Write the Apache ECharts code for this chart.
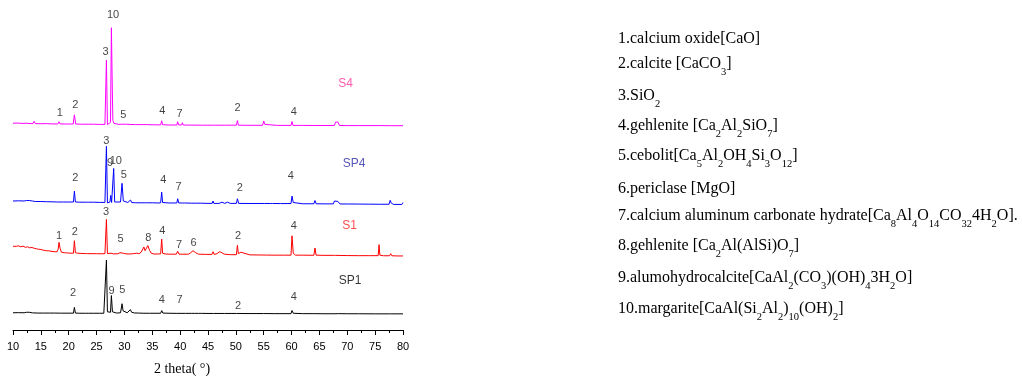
<!DOCTYPE html>
<html>
<head>
<meta charset="utf-8">
<script src="https://cdn.jsdelivr.net/npm/echarts@6/dist/echarts.min.js"></script>
<style>html,body{margin:0;padding:0;background:#fff;}#c{width:1022px;height:381px;}</style>
</head>
<body>
<div id="c"></div>
<script>
// ---- data: 2theta (deg), relative intensity above each pattern's baseline ----
var sampleNames = ['S4', 'SP4', 'S1', 'SP1'];
var offsets = [207, 127, 75, 16];

var S4 = [[10,3],[10.8,3.2],[11.6,2.8],[12.4,3],[13.2,2.6],[13.6,2.7],[13.8,5],[14,2.6],[15,2.5],[16,2.6],[17,2.3],[18.05,2.3],[18.26,4.5],[18.45,2.3],[19.5,2.2],[20.8,2.2],[21.02,11.5],[21.25,2.2],[22.3,2],[23.1,2],[23.3,3.5],[23.5,2],[24.5,2],[25.5,1.8],[26.5,1.8],[26.77,67],[26.95,1.5],[27.1,3],[27.3,1.5],[27.5,4],[27.66,100],[27.78,55],[27.84,53],[27.92,6],[28.1,3],[28.4,2],[29,1.8],[29.45,2],[29.57,4],[29.7,2.5],[30.2,2],[31,1.8],[32,1.6],[33,1.6],[34,1.6],[34.2,3],[34.4,1.5],[35.5,1.4],[36.5,1.3],[36.69,5.5],[36.85,1.5],[38,1.2],[39.4,1.2],[39.56,4.5],[39.72,1.3],[40.25,1.2],[40.41,3.5],[40.55,1.2],[41.2,1.1],[41.5,2],[41.9,1.1],[42.2,2],[42.5,1.1],[44,1],[45.8,1],[46,2.5],[46.2,1],[48,1],[50.1,1],[50.28,5.7],[50.45,1],[52,0.9],[54.8,0.9],[55.0,5.3],[55.2,1.8],[55.5,0.9],[57.5,0.8],[59.9,0.8],[60.08,4.7],[60.25,0.8],[62,0.8],[64,0.7],[66,0.7],[67.7,0.7],[67.9,4.2],[68.1,2.4],[68.3,4.2],[68.6,0.7],[70,0.6],[72,0.6],[75.5,0.6],[75.7,2],[75.9,0.6],[78,0.5],[80,0.5]];

var SP4 = [[10,4],[11,4.2],[12,4],[12.4,4.5],[12.6,5.5],[12.9,4.5],[13.5,4],[14,3.5],[15,3.5],[16,3.3],[17,3.2],[18,3],[19,3],[20,3],[20.85,3],[21.02,14],[21.2,3],[22,2.8],[23.2,2.8],[23.4,4],[23.6,2.8],[24.5,2.8],[25.5,2.6],[26.5,2.6],[26.77,59.5],[26.95,2],[27.2,1.5],[27.4,3],[27.55,9.7],[27.7,2.5],[27.9,3],[28.07,37],[28.25,3],[28.6,2.5],[29.3,3],[29.57,22],[29.8,4],[30.1,3],[30.6,2.5],[30.9,2.5],[31.1,5],[31.3,2.5],[32,2.2],[33,2.2],[33.8,2.2],[34.0,3.5],[34.2,2.2],[35,2.2],[36,2],[36.5,2.2],[36.69,13],[36.85,2.5],[37.2,2.2],[38,2],[39.4,2],[39.56,6.3],[39.75,2],[40.4,2],[40.6,3],[40.8,2],[42,1.8],[43,1.8],[43.3,2.8],[43.6,1.8],[45,1.6],[45.75,1.6],[45.9,4],[46.05,1.6],[47,1.6],[47.5,2.8],[48,1.6],[48.5,2.8],[49,1.6],[50.1,1.6],[50.28,6.3],[50.5,1.6],[52,1.5],[54.7,1.5],[54.9,3.5],[55.1,1.5],[56.2,1.5],[56.4,3],[56.6,1.5],[58,1.4],[59.9,1.4],[60.08,9],[60.3,2.5],[60.6,1.4],[62,1.2],[64,1.2],[64.2,4.5],[64.4,1.2],[66,1.1],[67.5,1.1],[67.7,4],[68,3.5],[68.3,3.6],[68.7,1],[70,1],[72,0.9],[74,0.8],[76,0.7],[77.5,0.7],[77.7,4.7],[77.9,1.8],[78.3,0.6],[79.8,0.5],[80,2.5]];

var S1 = [[10,10],[10.3,11],[10.6,10],[11,10.5],[11.4,9.5],[11.8,10.2],[12.2,9],[12.6,9.5],[13,8.5],[13.4,8.8],[13.8,8],[14.2,7.5],[14.6,7],[15,6.8],[15.5,6],[16,5.5],[16.5,5.4],[17,4.8],[17.5,4.5],[17.9,4.4],[18.1,7],[18.26,14],[18.45,8],[18.7,4],[19.2,3.5],[19.8,3.2],[20.4,3],[20.85,3],[21.02,15.7],[21.2,3.5],[21.6,3],[22.2,2.8],[23,2.6],[23.2,4],[23.4,2.6],[24,2.5],[25,2.5],[25.8,2.4],[26.5,2.5],[26.77,37.3],[26.95,2.6],[27.3,2.4],[27.6,3],[28,2.3],[28.8,2.4],[29.2,3.5],[29.5,5],[29.8,3],[30.3,2.3],[31,2.2],[31.6,2.5],[31.9,4],[32.2,3],[32.6,2.5],[33,4],[33.3,6],[33.5,9.3],[33.7,5.5],[33.9,6],[34.2,10.7],[34.5,6],[34.8,3],[35.3,2.2],[36,2.2],[36.5,2.4],[36.69,17.3],[36.85,3],[37.3,2.2],[38.2,2],[39.3,2],[39.56,5],[39.8,2],[40.5,2],[41.5,2],[41.9,3.5],[42.3,5.5],[42.8,3.5],[43.3,2],[44.5,1.8],[45.7,1.8],[45.9,4.5],[46.1,1.8],[46.6,2.5],[47.1,4.5],[47.5,3.5],[47.9,2],[49,1.5],[50.1,1.5],[50.28,11],[50.45,2.5],[50.9,4],[51.2,2],[52.5,1.3],[54,1.2],[55.5,1.1],[57,1],[58.5,1],[59.9,1],[60.08,20.7],[60.3,3],[60.7,1],[62,1],[64,0.9],[64.2,8.3],[64.4,1],[66,0.8],[67.5,0.8],[67.7,2.8],[67.9,0.8],[70,0.6],[72,0.5],[74,0.5],[75.55,0.5],[75.7,11.7],[75.85,1],[76.5,0.4],[77.6,0.4],[77.8,2.5],[78,0.4],[79,0.2],[80,0.2]];

var SP1 = [[10,1.5],[11,1.6],[12,1.5],[12.4,2],[12.6,3],[12.9,2],[13.5,1.4],[14.5,1.2],[15.5,1.2],[16.5,1.2],[17.5,1.2],[18.5,1.1],[19.5,1.1],[20.85,1.1],[21.02,7],[21.2,1.2],[22,1],[23,1],[23.3,2],[23.6,1],[24.5,1],[25.5,1],[26.3,1],[26.5,2],[26.77,55],[26.95,2.5],[27.2,1.5],[27.5,2],[27.66,19],[27.85,2.5],[28.1,1.5],[28.6,1.2],[29.3,1.5],[29.57,10.7],[29.75,3.5],[30,2],[30.5,1.5],[30.85,1.8],[31.07,4.7],[31.3,2],[31.8,1.3],[32.5,1.2],[33.5,1],[34.5,1],[35.5,1],[36.5,1],[36.69,3.7],[36.9,1.2],[38,1],[39.4,0.9],[39.56,2.2],[39.75,0.9],[41,0.9],[42,0.9],[42.3,1.8],[42.6,0.9],[43.3,0.9],[43.5,1.6],[43.8,0.9],[45,0.8],[46,0.8],[48,0.8],[50.1,0.8],[50.28,2.5],[50.45,0.8],[52,0.7],[55,0.7],[55.2,1.5],[55.4,0.7],[57,0.6],[59.9,0.6],[60.08,3.8],[60.3,1],[60.6,0.6],[62,0.6],[64,0.6],[66,0.5],[67.8,0.5],[68.1,1.6],[68.4,0.6],[70,0.5],[72,0.5],[75,0.4],[77.6,0.4],[77.8,1.6],[78,0.4],[80,0.4]];

// peak annotation numbers: [2theta, height above baseline, text]
var S4_marks = [[18.4,13.7,'1'],[21.2,21.3,'2'],[26.6,75.7,'3'],[27.95,113,'10'],[29.8,11.3,'5'],[36.8,15.7,'4'],[39.9,12.3,'7'],[50.3,18,'2'],[60.4,14.7,'4']];
var SP4_marks = [[26.76,64.7,'3'],[27.4,42.7,'9'],[28.45,45,'10'],[29.9,30,'5'],[21.2,27,'2'],[37.0,25,'4'],[39.7,18,'7'],[50.7,17.3,'2'],[59.85,29,'4']];
var S1_marks = [[18.26,20.7,'1'],[21.1,25,'2'],[26.7,45,'3'],[29.3,17.7,'5'],[34.3,18.3,'8'],[36.8,26,'4'],[39.8,11.7,'7'],[42.4,13,'6'],[50.4,21,'2'],[60.4,31,'4']];
var SP1_marks = [[20.8,21.3,'2'],[27.7,24,'9'],[29.6,24.7,'5'],[36.7,15,'4'],[39.9,14,'7'],[50.4,8,'2'],[60.4,17.3,'4']];

// sample name tags: [2theta, height above baseline]
var nameTags = [[69.7,43],[71.2,42.3],[70.4,31],[70.5,34]];

var xTicks = {min: 10, max: 80, step: 5};
var xTitle = '2 theta( \u00b0)';

var phaseList = [
  '1.calcium oxide[CaO]',
  '2.calcite [CaCO{s|3}]',
  '3.SiO{s|2}',
  '4.gehlenite [Ca{s|2}Al{s|2}SiO{s|7}]',
  '5.cebolit[Ca{s|5}Al{s|2}OH{s|4}Si{s|3}O{s|12}]',
  '6.periclase [MgO]',
  '7.calcium aluminum carbonate hydrate[Ca{s|8}Al{s|4}O{s|14}CO{s|32}4H{s|2}O].',
  '8.gehlenite [Ca{s|2}Al(AlSi)O{s|7}]',
  '9.alumohydrocalcite[CaAl{s|2}(CO{s|3})(OH){s|4}3H{s|2}O]',
  '10.margarite[CaAl(Si{s|2}Al{s|2}){s|10}(OH){s|2}]'
];

// ---- styling ----
var lineColors = ['#ff00ff', '#0000ff', '#ff0000', '#000000'];
var nameColors = ['#ff3399', '#2a2aa8', '#ff2020', '#000000'];
var phaseY = [39, 64, 96, 126, 156, 189, 216, 246, 278, 309];

var profiles = [S4, SP4, S1, SP1];
var marks = [S4_marks, SP4_marks, S1_marks, SP1_marks];
var sansFont = '"Liberation Sans", Arial, sans-serif';
var serifFont = '"Liberation Serif", "Times New Roman", serif';

var series = [];
profiles.forEach(function (prof, i) {
  var off = offsets[i];
  series.push({
    type: 'line',
    name: sampleNames[i],
    data: prof.map(function (p) { return [p[0], p[1] + off]; }),
    showSymbol: false,
    symbol: 'none',
    lineStyle: {width: 1, color: lineColors[i]},
    itemStyle: {color: lineColors[i]},
    clip: false,
    z: 2
  });
});
marks.forEach(function (mk, i) {
  var off = offsets[i];
  var data = mk.map(function (m) { return {value: [m[0], m[1] + off], name: m[2]}; });
  data.push({
    value: [nameTags[i][0], nameTags[i][1] + off],
    name: sampleNames[i],
    label: {color: nameColors[i], fontSize: 12}
  });
  series.push({
    type: 'scatter',
    data: data,
    symbolSize: 1,
    itemStyle: {color: 'rgba(0,0,0,0)'},
    label: {
      show: true, position: 'inside', formatter: '{b}',
      color: '#111', fontSize: 11, fontFamily: sansFont
    },
    clip: false,
    silent: true,
    z: 3
  });
});

var graphics = phaseList.map(function (t, i) {
  return {
    type: 'text',
    x: 618,
    y: phaseY[i],
    style: {
      text: t,
      fill: '#000',
      fontSize: 16,
      fontFamily: serifFont,
      verticalAlign: 'middle',
      align: 'left',
      rich: {
        s: {fontSize: 10.5, fontFamily: serifFont, fill: '#000', lineHeight: 10, padding: [17, 0, 0, 0], verticalAlign: 'middle'}
      }
    }
  };
});

var chart = echarts.init(document.getElementById('c'), null, {renderer: 'canvas'});
chart.setOption({
  animation: false,
  backgroundColor: '#fff',
  grid: {left: 13, right: 619, top: 10, bottom: 46},
  xAxis: {
    type: 'value',
    min: xTicks.min, max: xTicks.max, interval: xTicks.step,
    name: xTitle,
    nameLocation: 'middle',
    nameGap: 32,
    nameTextStyle: {fontFamily: serifFont, fontSize: 14, color: '#000', padding: [0, 52, 0, 0]},
    axisLine: {show: true, lineStyle: {color: '#000', width: 1}},
    axisTick: {show: true, inside: false, length: 5, lineStyle: {color: '#000'}},
    minorTick: {show: true, splitNumber: 2, length: 3, lineStyle: {color: '#000'}},
    splitLine: {show: false},
    axisLabel: {color: '#000', fontSize: 11, fontFamily: sansFont, margin: 11}
  },
  yAxis: {type: 'value', min: 0, max: 325, show: false},
  series: series,
  graphic: graphics
});
</script>
</body>
</html>
